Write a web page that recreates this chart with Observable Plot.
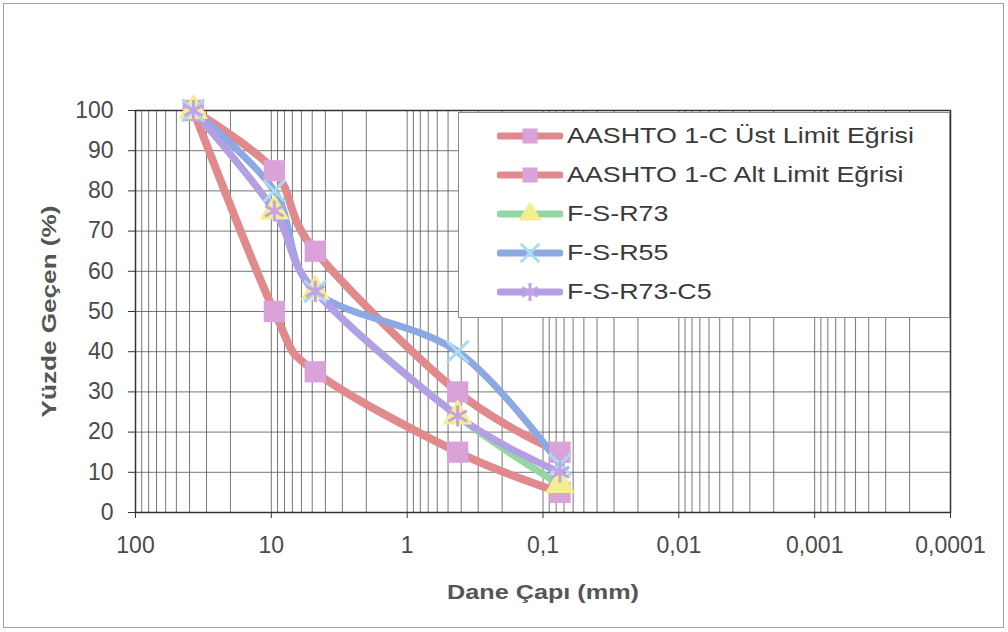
<!DOCTYPE html>
<html><head><meta charset="utf-8">
<script src="https://cdn.jsdelivr.net/npm/d3@7"></script>
<script src="https://cdn.jsdelivr.net/npm/@observablehq/plot@0.6"></script>
<style>
body{margin:0;background:#fff;}
#wrap{position:relative;width:1008px;height:632px;overflow:hidden;font-family:"Liberation Sans",Arial,sans-serif;background:#fff;}
#frame{position:absolute;left:3px;top:3px;width:1001px;height:625px;border:1.5px solid #a0a0a0;box-sizing:border-box;pointer-events:none;}
#legend{position:absolute;left:458px;top:112px;width:492px;height:206px;background:#fff;border:1px solid #8a8a8a;box-sizing:border-box;}
.item{position:absolute;left:38px;height:30px;display:flex;align-items:center;white-space:nowrap;}
.item span{display:inline-block;font-size:22px;color:#3a3a3a;transform:scaleX(1.22);transform-origin:left center;}
.item svg{margin-right:4px;}
[aria-label="x-axis label"] text,[aria-label="y-axis label"] text{font-weight:bold;font-size:20px;fill:#555;}
</style></head><body><div id="wrap"></div>
<script>
// Sieve sizes (mm) and percent passing
const sizes = [37.5, 9.5, 4.75, 0.425, 0.075];
const seriesNames = ["AASHTO 1-C Üst Limit Eğrisi", "AASHTO 1-C Alt Limit Eğrisi", "F-S-R73", "F-S-R55", "F-S-R73-C5"];
const upper   = [100, 85, 65, 30, 15];
const lower   = [100, 50, 35, 15, 5];
const fsr73   = [100, 75, 55, 24, 7];
const fsr55   = [100, 80, 55, 40, 12];
const fsr73c5 = [100, 75, 55, 24, 10];
const xTickValues = [100, 10, 1, 0.1, 0.01, 0.001, 0.0001];
const yTickValues = [0, 10, 20, 30, 40, 50, 60, 70, 80, 90, 100];

const valuesList = [upper, lower, fsr73, fsr55, fsr73c5];
const styles = [
  {line: "#e08a8e", symbol: "square", fill: "#d9a3d9", stroke: null, r: 12, sw: 8},
  {line: "#e08a8e", symbol: "square", fill: "#d9a3d9", stroke: null, r: 12, sw: 8},
  {line: "#93d8a2", symbol: "triangle", fill: "#f4ee8e", stroke: null, r: 11, sw: 7},
  {line: "#8ea8e2", symbol: "times", fill: "none", stroke: "#a6dcf4", r: 10, sw: 7},
  {line: "#b49ee6", symbol: "asterisk", fill: "none", stroke: "#c3a2e6", r: 10, sw: 7}
];
const rows = valuesList.map((vals, i) => sizes.map((s, j) => ({size: s, pct: vals[j], series: seriesNames[i]})));

// gridline positions for a log axis (1..9 per decade)
const gridXValues = [];
for (let k = -4; k <= 1; k++) for (let m = 1; m <= 9; m++) { const v = m * Math.pow(10, k); if (v <= 100) gridXValues.push(v); }
gridXValues.push(100);

const fmt = d => String(d).replace(".", ",");
const curve = d3.curveCatmullRom.alpha(0);

const marks = [
  Plot.gridX(gridXValues, {stroke: "#555", strokeOpacity: 0.8}),
  Plot.gridY(yTickValues, {stroke: "#555", strokeOpacity: 0.8}),
  Plot.frame({stroke: "#333", strokeWidth: 1.5})
];
rows.forEach((data, i) => {
  const st = styles[i];
  marks.push(Plot.line(data, {x: "size", y: "pct", stroke: st.line, strokeWidth: st.sw, curve, strokeLinecap: "round", strokeLinejoin: "round"}));
});
rows.forEach((data, i) => {
  const st = styles[i];
  const o = {x: "size", y: "pct", symbol: st.symbol, r: st.r};
  if (st.stroke) { o.stroke = st.stroke; o.strokeWidth = 3; o.fill = "none"; }
  else { o.fill = st.fill; o.stroke = "none"; }
  marks.push(Plot.dot(data, o));
});
marks.push(
  Plot.axisX(xTickValues, {tickFormat: fmt, tickSize: 6, tickPadding: 18, fontSize: 23, color: "#4a4a4a", label: "Dane Çapı (mm)", labelAnchor: "center", labelOffset: 86, labelArrow: "none", stroke: "#333"}),
  Plot.axisY(yTickValues, {tickSize: 7, tickPadding: 15, fontSize: 23, color: "#4a4a4a", label: "Yüzde Geçen (%)", labelAnchor: "center", labelOffset: 94, labelArrow: "none", stroke: "#333"})
);

const chart = Plot.plot({
  width: 1008, height: 632,
  marginLeft: 135, marginRight: 58, marginTop: 110, marginBottom: 120,
  style: {fontFamily: "'Liberation Sans', Arial, sans-serif", background: "transparent"},
  x: {type: "log", domain: [100, 0.0001]},
  y: {domain: [0, 100]},
  marks
});
const wrap = document.getElementById("wrap");
wrap.appendChild(chart);
d3.select(chart).selectAll('[aria-label="x-axis label"] text').attr("textLength", 192).attr("lengthAdjust", "spacingAndGlyphs");
d3.select(chart).selectAll('[aria-label="y-axis label"] text').attr("textLength", 212).attr("lengthAdjust", "spacingAndGlyphs");
const frame = document.createElement("div"); frame.id = "frame"; wrap.appendChild(frame);

// legend
const legend = document.createElement("div"); legend.id = "legend";
const symMap = {square: d3.symbolSquare, triangle: d3.symbolTriangle, times: d3.symbolTimes, asterisk: d3.symbolAsterisk};
seriesNames.forEach((name, i) => {
  const st = styles[i];
  const item = document.createElement("div"); item.className = "item";
  item.style.top = (8 + i * 39) + "px";
  const svg = d3.create("svg").attr("width", 66).attr("height", 22);
  svg.append("line").attr("x1", 3).attr("x2", 63).attr("y1", 11).attr("y2", 11)
    .attr("stroke", st.line).attr("stroke-width", 7).attr("stroke-linecap", "round");
  const p = svg.append("path").attr("transform", "translate(33,11)")
    .attr("d", d3.symbol(symMap[st.symbol], Math.PI * 8.5 * 8.5)());
  if (st.stroke) p.attr("fill", "none").attr("stroke", st.stroke).attr("stroke-width", 3);
  else p.attr("fill", st.fill);
  item.appendChild(svg.node());
  const t = document.createElement("span"); t.textContent = name; item.appendChild(t);
  legend.appendChild(item);
});
wrap.appendChild(legend);
</script></body></html>
